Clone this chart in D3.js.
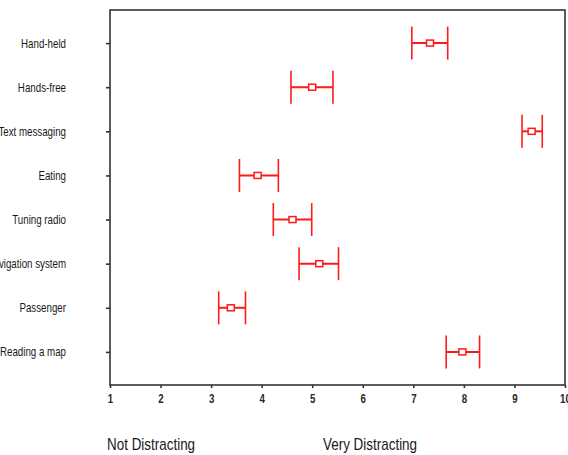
<!DOCTYPE html>
<html>
<head>
<meta charset="utf-8">
<script src="https://cdn.jsdelivr.net/npm/d3@7"></script>
<style>
  html, body { margin: 0; padding: 0; background: #fff; overflow: hidden; }
  svg { display: block; }
  .cat { font-family: "Liberation Sans", Arial, sans-serif; font-size: 12.5px; fill: #1a1a1a; }
  .tick-lbl { font-family: "Liberation Sans", Arial, sans-serif; font-size: 13.5px; font-weight: bold; fill: #2a2a2a; }
  .end-lbl { font-family: "Liberation Sans", Arial, sans-serif; font-size: 16px; fill: #1a1a1a; }
</style>
</head>
<body>
<svg id="chart" width="568" height="455"></svg>
<script>
// Distraction ratings per activity: mean with lower/upper interval bounds
const activities = ["Hand-held", "Hands-free", "Text messaging", "Eating", "Tuning radio", "Navigation system", "Passenger", "Reading a map"];
const means = [7.33, 5.00, 9.34, 3.92, 4.61, 5.14, 3.39, 7.97];
const lower = [6.97, 4.58, 9.15, 3.56, 4.23, 4.74, 3.15, 7.65];
const upper = [7.68, 5.41, 9.55, 4.33, 4.99, 5.52, 3.68, 8.31];
const xTicks = [1, 2, 3, 4, 5, 6, 7, 8, 9, 10];
const scaleEnds = ["Not Distracting", "Very Distracting"];

const svg = d3.select("#chart");
const plot = { left: 110, right: 565, top: 10, bottom: 385 };
const red = "#ff1a1a";
const narrow = 0.78;   // horizontal squeeze for a condensed look

const x = d3.scaleLinear().domain([1, 10]).range([plot.left, plot.right]);
const y = d3.scalePoint().domain(activities).range([plot.top, plot.bottom]).padding(0.75);

// Frame
svg.append("rect")
  .attr("x", plot.left).attr("y", plot.top)
  .attr("width", plot.right - plot.left).attr("height", plot.bottom - plot.top)
  .attr("fill", "none").attr("stroke", "#333").attr("stroke-width", 1.6);

// Bottom axis
const xAxis = svg.append("g").attr("transform", `translate(0,${plot.bottom})`)
  .call(d3.axisBottom(x).tickValues(xTicks).tickSize(3).tickPadding(5).tickFormat(d3.format("d")));
xAxis.select(".domain").remove();
xAxis.selectAll(".tick line").attr("stroke", "#333").attr("stroke-width", 1.6);
xAxis.selectAll(".tick text")
  .attr("class", "tick-lbl").attr("font-family", null).attr("font-size", null).attr("fill", null)
  .attr("transform", "scale(0.72,1)");

// Left axis with category names
const labelGap = 44;
const yAxis = svg.append("g").attr("transform", `translate(${plot.left},0)`)
  .call(d3.axisLeft(y).tickSize(4).tickPadding(labelGap));
yAxis.select(".domain").remove();
yAxis.selectAll(".tick line").attr("stroke", "#333").attr("stroke-width", 1.6);
yAxis.selectAll(".tick text")
  .attr("class", "cat").attr("font-family", null).attr("font-size", null).attr("fill", null)
  .attr("x", 0)
  .attr("transform", `translate(${-labelGap},0) scale(${narrow},1)`);

// Interval bars
const rows = activities.map((a, i) => ({ a, m: means[i], lo: lower[i], hi: upper[i] }));
const g = svg.append("g").attr("stroke", red).attr("fill", "none");
const capH = 16.5;

g.selectAll(".span").data(rows).join("line")
  .attr("x1", d => x(d.lo)).attr("x2", d => x(d.hi))
  .attr("y1", d => y(d.a)).attr("y2", d => y(d.a))
  .attr("stroke-width", 2);

g.selectAll(".capl").data(rows).join("line")
  .attr("x1", d => x(d.lo)).attr("x2", d => x(d.lo))
  .attr("y1", d => y(d.a) - capH).attr("y2", d => y(d.a) + capH)
  .attr("stroke-width", 1.6);

g.selectAll(".caph").data(rows).join("line")
  .attr("x1", d => x(d.hi)).attr("x2", d => x(d.hi))
  .attr("y1", d => y(d.a) - capH).attr("y2", d => y(d.a) + capH)
  .attr("stroke-width", 1.6);

g.selectAll("rect").data(rows).join("rect")
  .attr("x", d => x(d.m) - 3.5).attr("y", d => y(d.a) - 3)
  .attr("width", 7).attr("height", 6)
  .attr("fill", "#fff").attr("stroke-width", 1.5);

// Scale end descriptions
const endX = [107, 323];
scaleEnds.forEach((t, i) => {
  svg.append("text").attr("class", "end-lbl")
    .attr("transform", `translate(${endX[i]},450) scale(0.84,1)`)
    .text(t);
});
</script>
</body>
</html>
